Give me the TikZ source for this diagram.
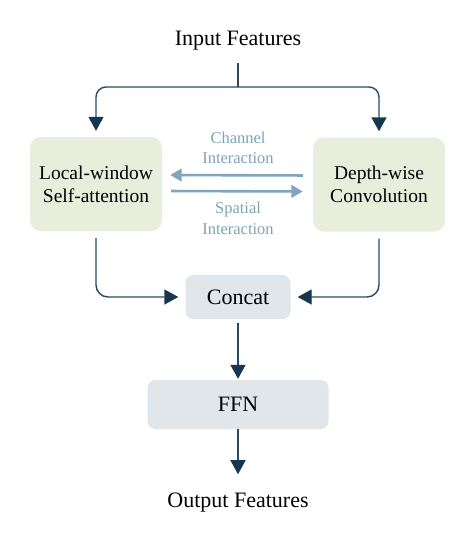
\documentclass[tikz,border=0pt]{standalone}
\usepackage{fontspec}
\setmainfont{Liberation Serif}
\usetikzlibrary{arrows.meta}
\definecolor{boxgreen}{HTML}{E8EEDC}
\definecolor{boxgrey}{HTML}{E0E6EA}
\definecolor{darkline}{HTML}{2B4A62}
\definecolor{darktip}{HTML}{173650}
\definecolor{lightblue}{HTML}{7FA6BC}
\definecolor{lighttext}{HTML}{7FA3B9}
\tikzset{
  greenbox/.style={fill=boxgreen, rounded corners=11pt, align=center, inner sep=0pt,
    font=\fontsize{19.5}{23}\selectfont},
  greybox/.style={fill=boxgrey, rounded corners=8pt, align=center, inner sep=0pt,
    font=\fontsize{22}{26}\selectfont},
  plaintext/.style={inner sep=0pt, anchor=base, font=\fontsize{22}{26}\selectfont},
  conn/.style={draw=darkline, line width=1.4pt},
  arr/.style={conn, -{Triangle[width=15pt,length=14pt,fill=darktip,color=darktip]}},
  light/.style={draw=lightblue, line width=2.6pt, -{Triangle[width=12.5pt,length=11.5pt]}},
  lightlabel/.style={text=lighttext, align=center, inner sep=0pt,
    font=\fontsize{16.5}{20.5}\selectfont}
}
\begin{document}
\begin{tikzpicture}[x=1pt,y=-1pt]
\useasboundingbox[fill=white] (0,0) rectangle (464,538);
\node[plaintext] (in) at (238,45) {Input Features};
\node[greenbox, minimum width=132pt, minimum height=94pt] (lsa) at (96,184) {Local-window\\Self-attention};
\node[greenbox, minimum width=132pt, minimum height=94pt] (dwc) at (379,184.5) {Depth-wise\\Convolution};
\node[greybox, minimum width=105pt, minimum height=44pt] (concat) at (238,297) {Concat};
\node[greybox, minimum width=181pt, minimum height=49pt] (ffn) at (238,404.5) {FFN};
\node[plaintext] (out) at (238,507) {Output Features};
\coordinate (split) at (238,87);
\node[lightlabel] (ch) at (238,148) {Channel\\Interaction};
\node[lightlabel] (sp) at (238,218.5) {Spatial\\Interaction};

\draw[conn, shorten <=13pt] (in.south) -- (split);
\draw[arr, rounded corners=10pt, shorten >=6pt] (split) -| (lsa.north);
\draw[arr, rounded corners=10pt, shorten >=6pt] (split) -| (dwc.north);

\draw[light, shorten <=10pt, shorten >=8pt] ([yshift=9pt]dwc.west) -- ([yshift=9pt]lsa.east);
\draw[light, shorten <=9pt, shorten >=10pt] ([yshift=-7pt]lsa.east) -- ([yshift=-7pt]dwc.west);

\draw[arr, rounded corners=12pt, shorten <=7pt, shorten >=7pt] (lsa.south) |- (concat.west);
\draw[arr, rounded corners=12pt, shorten <=7pt, shorten >=7pt] (dwc.south) |- (concat.east);
\draw[arr, shorten <=4pt, shorten >=1pt] (concat.south) -- (ffn.north);
\draw[arr, shorten >=18pt] (ffn.south) -- (out.north);
\end{tikzpicture}
\end{document}
